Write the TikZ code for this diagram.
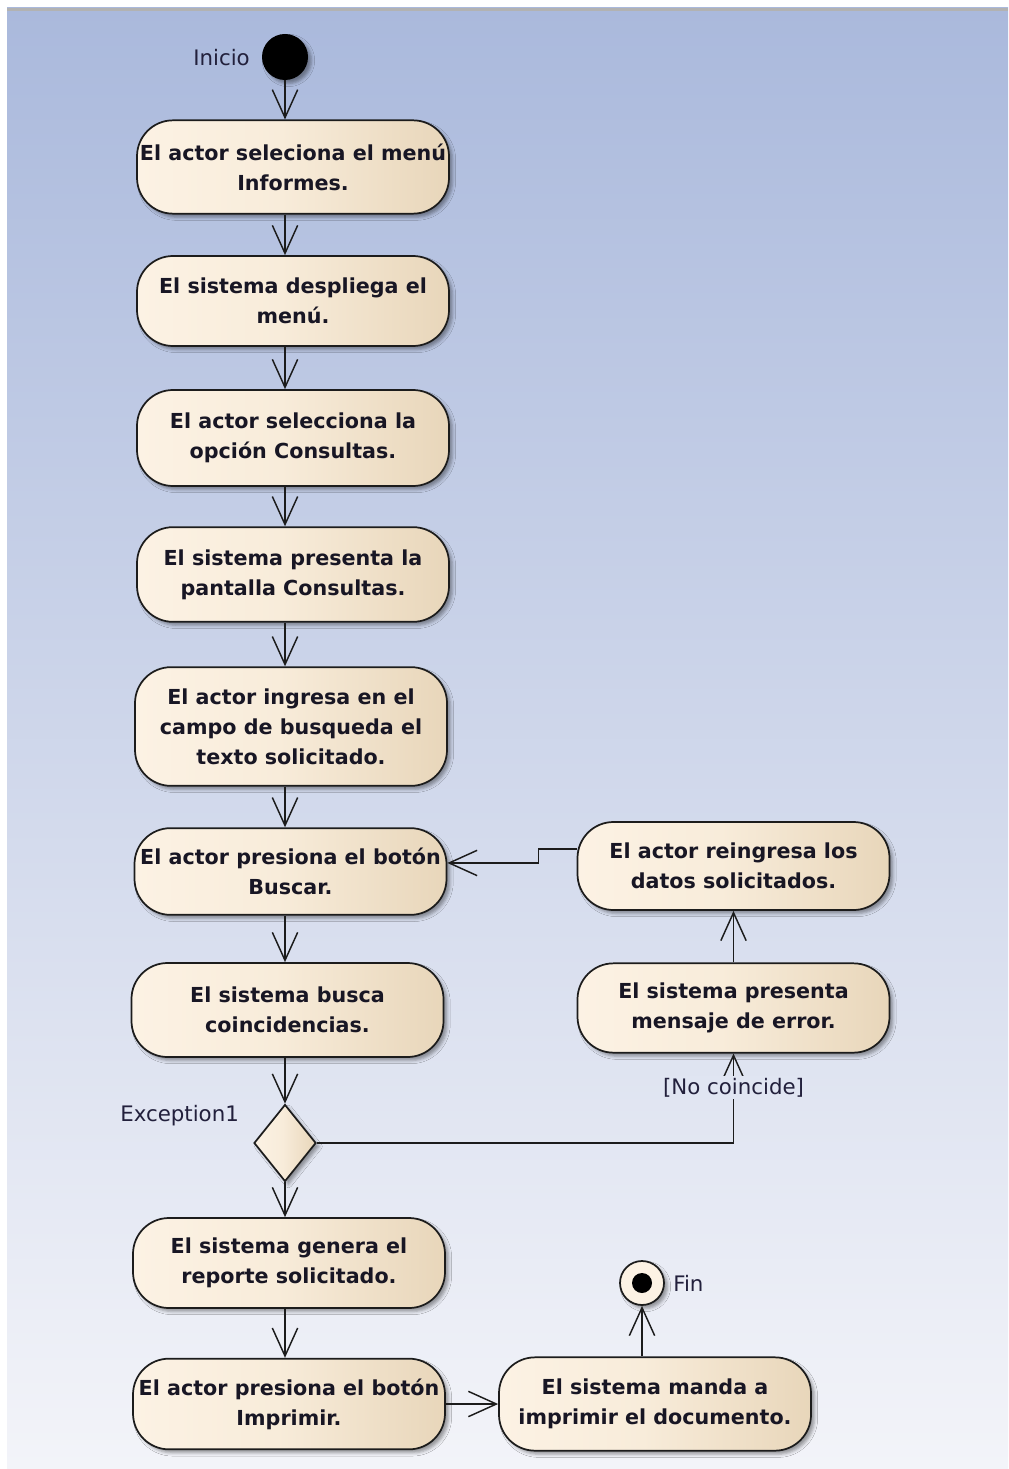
\documentclass[tikz,border=0pt]{standalone}
\usepackage{fontspec}
\setmainfont{DejaVu Sans}
\usetikzlibrary{arrows.meta,shapes.geometric,shadows.blur}

% palette
\definecolor{bgtop}{RGB}{170,185,220}
\definecolor{bgbot}{RGB}{243,244,249}
\definecolor{bgmid}{RGB}{224,229,242}
\definecolor{fillL}{RGB}{252,242,228}
\definecolor{fillM}{RGB}{248,236,218}
\definecolor{fillR}{RGB}{232,214,186}
\definecolor{edge}{RGB}{28,28,28}
\definecolor{ink}{RGB}{24,22,36}
\definecolor{lblink}{RGB}{34,32,60}
\definecolor{frame}{RGB}{178,178,178}

% cream fill of the activities, darker towards the right edge
\pgfdeclarehorizontalshading{actfill}{100bp}{color(0bp)=(fillL); color(25bp)=(fillL); color(48bp)=(fillM); color(75bp)=(fillR); color(100bp)=(fillR)}

\tikzset{
  shade/.style={blur shadow={shadow xshift=2.6pt, shadow yshift=-2.6pt, shadow blur radius=2.4pt, shadow opacity=38}},
  act/.style={shade, draw=edge, line width=1.3pt, rounded corners=27pt,
    shading=actfill, minimum width=234pt, align=center, inner sep=0pt,
    text=ink, font=\bfseries\fontsize{15.5}{22.5}\selectfont},
  decision/.style={shade, diamond, draw=edge, line width=1.3pt, shading=actfill,
    minimum width=46.5pt, minimum height=57.75pt, inner sep=0pt},
  startdot/.style={shade, circle, fill=black, minimum size=34.5pt, inner sep=0pt},
  enddot/.style={shade, circle, draw=edge, line width=1.3pt, fill=fillL, minimum size=33pt, inner sep=0pt,
    path picture={\fill[black] (path picture bounding box.center) circle (7.5pt);}},
  lbl/.style={inner sep=0pt, text=lblink, font=\fontsize{16}{19}\selectfont},
  guard/.style={lbl, fill=bgmid, inner sep=1.5pt},
  flow/.style={draw=edge, line width=1.1pt, -{Straight Barb[length=21pt, width=19pt, line width=1.1pt]}}
}

\begin{document}
\begin{tikzpicture}[x=0.75pt,y=-0.75pt]
\useasboundingbox (0,0) rectangle (1008,1469);
% canvas
\fill[top color=bgtop, bottom color=bgbot] (7,8) rectangle (1008,1469);
\draw[frame, line width=2.25pt] (7,9.5) -- (1008,9.5);

% main column
\node[startdot] (start) at (285,57) {};
\node[lbl, anchor=base east] (inicio) at (250,66) {Inicio};
\node[act, minimum height=70pt] (n1) at (293,167) {El actor seleciona el menú\\Informes.};
\node[act, minimum height=67.5pt] (n2) at (293,301) {El sistema despliega el\\menú.};
\node[act, minimum height=72pt] (n3) at (293,438) {El actor selecciona la\\opción Consultas.};
\node[act, minimum height=71pt] (n4) at (293,574.5) {El sistema presenta la\\pantalla Consultas.};
\node[act, minimum height=89pt] (n5) at (291,726.5) {El actor ingresa en el\\campo de busqueda el\\texto solicitado.};
\node[act, minimum height=65pt] (n6) at (290.5,871.5) {El actor presiona el botón\\Buscar.};
\node[act, minimum height=70.5pt] (n7) at (287.5,1010) {El sistema busca\\coincidencias.};
\node[decision] (dec) at (285,1143) {};
\node[lbl, anchor=base west] (exc) at (120,1121) {Exception1};
\node[act, minimum height=67.5pt] (n8) at (289,1263) {El sistema genera el\\reporte solicitado.};
\node[act, minimum height=68pt] (n9) at (289,1404) {El actor presiona el botón\\Imprimir.};
\node[act, minimum height=70pt] (n10) at (655,1404) {El sistema manda a\\imprimir el documento.};
\node[enddot] (fin) at (642,1283) {};
\node[lbl, anchor=base west] (finlbl) at (673,1291) {Fin};

% error branch
\node[act, minimum height=66pt] (nA) at (733.5,866) {El actor reingresa los\\datos solicitados.};
\node[act, minimum height=67pt] (nB) at (733.5,1008) {El sistema presenta\\mensaje de error.};

% control flow
\draw[flow] (start) -- (n1.north -| start);
\draw[flow] (n1.south -| start) -- (n2.north -| start);
\draw[flow] (n2.south -| start) -- (n3.north -| start);
\draw[flow] (n3.south -| start) -- (n4.north -| start);
\draw[flow] (n4.south -| start) -- (n5.north -| start);
\draw[flow] (n5.south -| start) -- (n6.north -| start);
\draw[flow] (n6.south -| start) -- (n7.north -| start);
\draw[flow] (n7.south -| dec) -- (dec.north);
\draw[flow] (dec.south) -- (n8.north -| dec);
\draw[flow] (n8.south -| start) -- (n9.north -| start);
\draw[flow] (n9.east) -- (n10.west);
\draw[flow] (n10.north -| fin) -- (fin);
\draw[flow] (dec.east) -| node[guard, pos=0.81] (nocoin) {[No coincide]} (nB.south);
\draw[flow] (nB) -- (nA);
\draw[flow] ([yshift=12.75pt]nA.west) -- ++(-38,0) |- ([yshift=6.4pt]n6.east);
\end{tikzpicture}
\end{document}
